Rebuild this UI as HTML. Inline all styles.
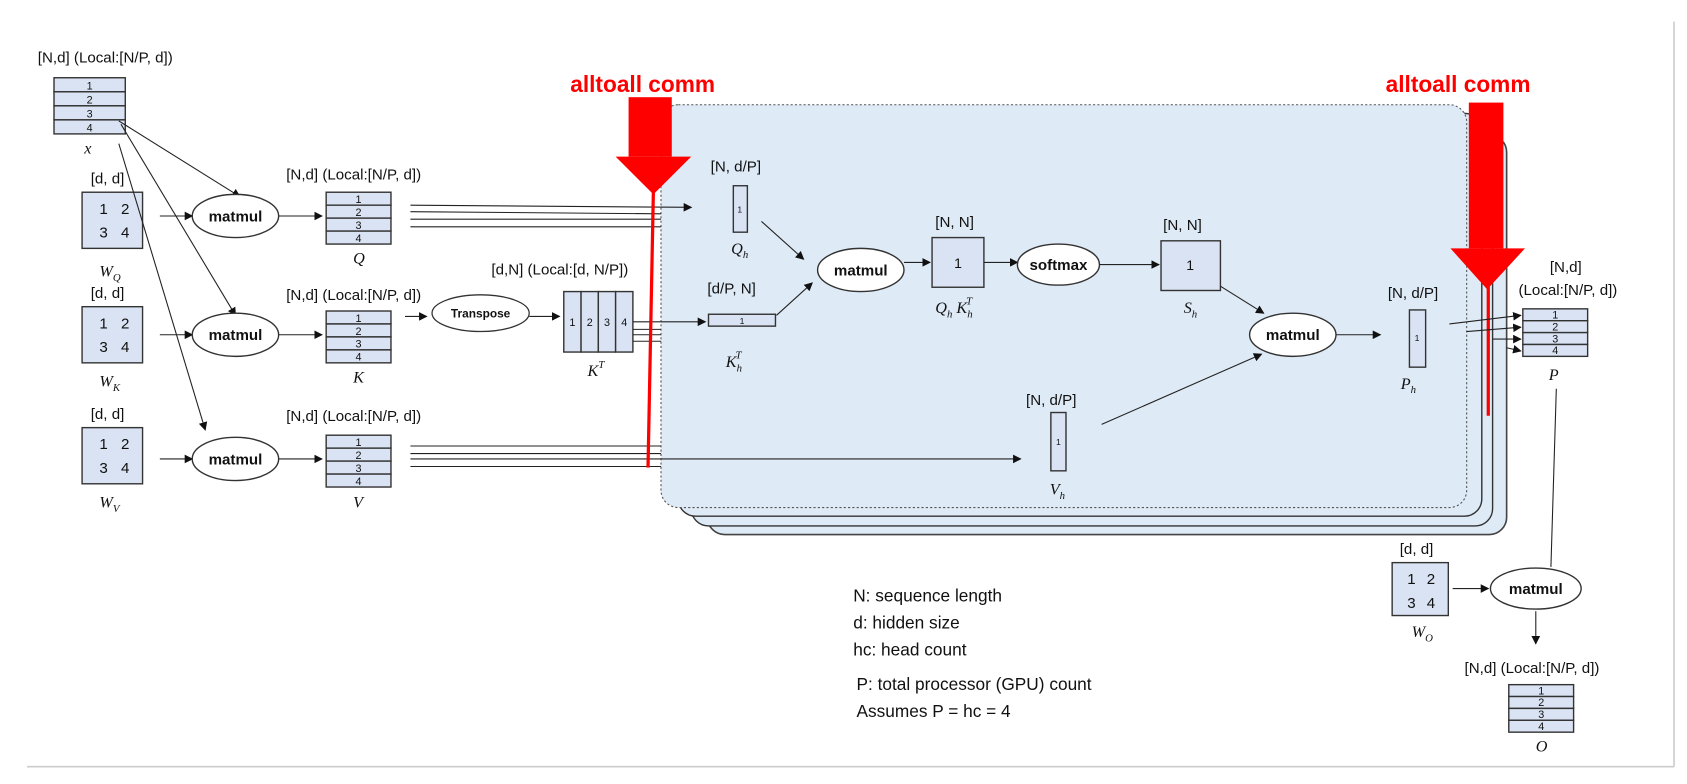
<!DOCTYPE html>
<html><head><meta charset="utf-8"><style>
html,body{margin:0;padding:0;background:#fff;}
svg{display:block;}
text{font-family:"Liberation Sans",sans-serif;fill:#111;}
.m{font-family:"Liberation Serif",serif;font-style:italic;font-size:15px;}
.l{font-size:14px;}
.b{font-weight:bold;font-size:14px;}
.c{fill:#dae3f3;stroke:#333;stroke-width:1.3;}
.ln{stroke:#222;stroke-width:1;fill:none;}
</style></head><body>
<svg width="1687" height="784" viewBox="0 0 1562 726" preserveAspectRatio="none" xmlns="http://www.w3.org/2000/svg">
<defs>
<marker id="a" markerWidth="8" markerHeight="8" refX="7" refY="4" orient="auto" markerUnits="userSpaceOnUse"><path d="M0,0 L8,4 L0,8 z" fill="#111"/></marker>
</defs>
<!-- border -->
<line x1="1550" y1="20" x2="1550" y2="710" stroke="#ccc" stroke-width="1.5"/>
<line x1="25" y1="710" x2="1550" y2="710" stroke="#ccc" stroke-width="1.5"/>

<!-- stacked panels -->
<rect x="655" y="125" width="740" height="370" rx="16" fill="#deeaf6" stroke="#444" stroke-width="1.5"/>
<rect x="640" y="115" width="742" height="372" rx="16" fill="#deeaf6" stroke="#333" stroke-width="1.3"/>
<rect x="628" y="105" width="744" height="373" rx="16" fill="#deeaf6" stroke="#333" stroke-width="1.3"/>
<rect x="612" y="97" width="746" height="373" rx="16" fill="#deeaf6" stroke="#555" stroke-width="1" stroke-dasharray="2,2"/>

<!-- x -->
<text class="l" x="35" y="58">[N,d] (Local:[N/P, d])</text>
<g>
<rect class="c" x="50" y="72" width="66" height="13"/><rect class="c" x="50" y="85" width="66" height="13"/><rect class="c" x="50" y="98" width="66" height="13"/><rect class="c" x="50" y="111" width="66" height="13"/>
<text x="83" y="83" font-size="10" text-anchor="middle">1</text><text x="83" y="96" font-size="10" text-anchor="middle">2</text><text x="83" y="109" font-size="10" text-anchor="middle">3</text><text x="83" y="122" font-size="10" text-anchor="middle">4</text>
</g>
<text class="m" x="78" y="142">x</text>

<!-- W matrices -->
<g font-size="14">
<text class="l" x="84" y="170">[d, d]</text>
<rect class="c" x="76" y="178" width="56" height="52"/>
<text x="92" y="198">1</text><text x="112" y="198">2</text><text x="92" y="220">3</text><text x="112" y="220">4</text>
<text class="m" x="92" y="256">W<tspan font-size="10" dy="4">Q</tspan></text>

<text class="l" x="84" y="276">[d, d]</text>
<rect class="c" x="76" y="284" width="56" height="52"/>
<text x="92" y="304">1</text><text x="112" y="304">2</text><text x="92" y="326">3</text><text x="112" y="326">4</text>
<text class="m" x="92" y="358">W<tspan font-size="10" dy="4">K</tspan></text>

<text class="l" x="84" y="388">[d, d]</text>
<rect class="c" x="76" y="396" width="56" height="52"/>
<text x="92" y="416">1</text><text x="112" y="416">2</text><text x="92" y="438">3</text><text x="112" y="438">4</text>
<text class="m" x="92" y="470">W<tspan font-size="10" dy="4">V</tspan></text>
</g>

<!-- x lines -->
<line class="ln" x1="110" y1="112" x2="222" y2="182" marker-end="url(#a)"/>
<line class="ln" x1="112" y1="115" x2="218" y2="292" marker-end="url(#a)"/>
<line class="ln" x1="110" y1="133" x2="190" y2="398" marker-end="url(#a)"/>

<!-- matmuls left -->
<line class="ln" x1="148" y1="200" x2="178" y2="200" marker-end="url(#a)"/>
<ellipse cx="218" cy="200" rx="40" ry="20" fill="#fff" stroke="#333" stroke-width="1.3"/>
<text class="b" x="218" y="205" text-anchor="middle">matmul</text>
<line class="ln" x1="258" y1="200" x2="298" y2="200" marker-end="url(#a)"/>

<line class="ln" x1="148" y1="310" x2="178" y2="310" marker-end="url(#a)"/>
<ellipse cx="218" cy="310" rx="40" ry="20" fill="#fff" stroke="#333" stroke-width="1.3"/>
<text class="b" x="218" y="315" text-anchor="middle">matmul</text>
<line class="ln" x1="258" y1="310" x2="298" y2="310" marker-end="url(#a)"/>

<line class="ln" x1="148" y1="425" x2="178" y2="425" marker-end="url(#a)"/>
<ellipse cx="218" cy="425" rx="40" ry="20" fill="#fff" stroke="#333" stroke-width="1.3"/>
<text class="b" x="218" y="430" text-anchor="middle">matmul</text>
<line class="ln" x1="258" y1="425" x2="298" y2="425" marker-end="url(#a)"/>

<!-- Q K V -->
<g font-size="10" text-anchor="middle">
<text class="l" x="265" y="166" text-anchor="start">[N,d] (Local:[N/P, d])</text>
<rect class="c" x="302" y="178" width="60" height="12"/><rect class="c" x="302" y="190" width="60" height="12"/><rect class="c" x="302" y="202" width="60" height="12"/><rect class="c" x="302" y="214" width="60" height="12"/>
<text x="332" y="188">1</text><text x="332" y="200">2</text><text x="332" y="212">3</text><text x="332" y="224">4</text>

<text class="l" x="265" y="278" text-anchor="start">[N,d] (Local:[N/P, d])</text>
<rect class="c" x="302" y="288" width="60" height="12"/><rect class="c" x="302" y="300" width="60" height="12"/><rect class="c" x="302" y="312" width="60" height="12"/><rect class="c" x="302" y="324" width="60" height="12"/>
<text x="332" y="298">1</text><text x="332" y="310">2</text><text x="332" y="322">3</text><text x="332" y="334">4</text>

<text class="l" x="265" y="390" text-anchor="start">[N,d] (Local:[N/P, d])</text>
<rect class="c" x="302" y="403" width="60" height="12"/><rect class="c" x="302" y="415" width="60" height="12"/><rect class="c" x="302" y="427" width="60" height="12"/><rect class="c" x="302" y="439" width="60" height="12"/>
<text x="332" y="413">1</text><text x="332" y="425">2</text><text x="332" y="437">3</text><text x="332" y="449">4</text>
</g>
<text class="m" x="327" y="244">Q</text>
<text class="m" x="327" y="354">K</text>
<text class="m" x="327" y="470">V</text>

<!-- Q lines -->
<line class="ln" x1="380" y1="190" x2="640" y2="192" marker-end="url(#a)"/>
<line class="ln" x1="380" y1="196" x2="612" y2="198"/>
<line class="ln" x1="380" y1="203" x2="612" y2="203"/>
<line class="ln" x1="380" y1="210" x2="612" y2="210"/>

<!-- transpose -->
<line class="ln" x1="375" y1="293" x2="395" y2="293" marker-end="url(#a)"/>
<ellipse cx="445" cy="290" rx="45" ry="17" fill="#fff" stroke="#333" stroke-width="1.2"/>
<text x="445" y="294" font-size="11" font-weight="bold" text-anchor="middle">Transpose</text>
<line class="ln" x1="490" y1="293" x2="518" y2="293" marker-end="url(#a)"/>
<text class="l" x="455" y="254">[d,N] (Local:[d, N/P])</text>
<g font-size="10" text-anchor="middle">
<rect class="c" x="522" y="270" width="16" height="56"/><rect class="c" x="538" y="270" width="16" height="56"/><rect class="c" x="554" y="270" width="16" height="56"/><rect class="c" x="570" y="270" width="16" height="56"/>
<text x="530" y="302">1</text><text x="546" y="302">2</text><text x="562" y="302">3</text><text x="578" y="302">4</text>
</g>
<text class="m" x="544" y="348">K<tspan font-size="10" dy="-7">T</tspan></text>
<line class="ln" x1="586" y1="298" x2="653" y2="298" marker-end="url(#a)"/>
<line class="ln" x1="586" y1="305" x2="612" y2="305"/>
<line class="ln" x1="586" y1="310" x2="612" y2="310"/>
<line class="ln" x1="586" y1="316" x2="612" y2="316"/>

<!-- V lines -->
<line class="ln" x1="380" y1="413" x2="612" y2="413"/>
<line class="ln" x1="380" y1="420" x2="612" y2="420"/>
<line class="ln" x1="380" y1="425" x2="945" y2="425" marker-end="url(#a)"/>
<line class="ln" x1="380" y1="432" x2="612" y2="432"/>

<!-- left red arrow -->
<text x="528" y="85" font-size="21" font-weight="bold" fill="#f00" style="fill:#f00">alltoall comm</text>
<rect x="582" y="90" width="40" height="55" fill="#f00"/>
<polygon points="570,145 640,145 605,180" fill="#f00"/>
<line x1="605" y1="175" x2="600" y2="433" stroke="#f00" stroke-width="3"/>

<!-- inner: Qh -->
<text class="l" x="658" y="159">[N, d/P]</text>
<rect class="c" x="679" y="172" width="13" height="43"/>
<text x="685" y="197" font-size="8" text-anchor="middle">1</text>
<text class="m" x="677" y="235">Q<tspan font-size="10" dy="4">h</tspan></text>
<line class="ln" x1="705" y1="205" x2="744" y2="240" marker-end="url(#a)"/>

<text class="l" x="655" y="272">[d/P, N]</text>
<rect class="c" x="656" y="291" width="62" height="11"/>
<text x="687" y="300" font-size="8" text-anchor="middle">1</text>
<text class="m" x="672" y="340">K<tspan font-size="10" dy="4">h</tspan><tspan font-size="10" dx="-6" dy="-12">T</tspan></text>
<line class="ln" x1="719" y1="292" x2="752" y2="262" marker-end="url(#a)"/>

<ellipse cx="797" cy="250" rx="40" ry="20" fill="#fff" stroke="#333" stroke-width="1.3"/>
<text class="b" x="797" y="255" text-anchor="middle">matmul</text>
<line class="ln" x1="837" y1="243" x2="861" y2="243" marker-end="url(#a)"/>

<text class="l" x="866" y="210">[N, N]</text>
<rect class="c" x="863" y="220" width="48" height="46"/>
<text x="887" y="248" font-size="13" text-anchor="middle">1</text>
<text class="m" x="866" y="290">Q<tspan font-size="10" dy="4">h</tspan><tspan dy="-4"> K</tspan><tspan font-size="10" dy="4">h</tspan><tspan font-size="10" dx="-6" dy="-12">T</tspan></text>
<line class="ln" x1="911" y1="243" x2="942" y2="243" marker-end="url(#a)"/>

<ellipse cx="980" cy="245" rx="38" ry="19" fill="#fff" stroke="#333" stroke-width="1.3"/>
<text class="b" x="980" y="250" text-anchor="middle">softmax</text>
<line class="ln" x1="1018" y1="245" x2="1073" y2="245" marker-end="url(#a)"/>

<text class="l" x="1077" y="213">[N, N]</text>
<rect class="c" x="1075" y="223" width="55" height="46"/>
<text x="1102" y="250" font-size="13" text-anchor="middle">1</text>
<text class="m" x="1096" y="290">S<tspan font-size="10" dy="4">h</tspan></text>
<line class="ln" x1="1130" y1="265" x2="1170" y2="290" marker-end="url(#a)"/>

<ellipse cx="1197" cy="310" rx="40" ry="20" fill="#fff" stroke="#333" stroke-width="1.3"/>
<text class="b" x="1197" y="315" text-anchor="middle">matmul</text>
<line class="ln" x1="1237" y1="310" x2="1278" y2="310" marker-end="url(#a)"/>

<text class="l" x="1285" y="276">[N, d/P]</text>
<rect class="c" x="1305" y="287" width="15" height="53"/>
<text x="1312" y="316" font-size="8" text-anchor="middle">1</text>
<text class="m" x="1297" y="360">P<tspan font-size="10" dy="4">h</tspan></text>

<text class="l" x="950" y="375">[N, d/P]</text>
<rect class="c" x="973" y="382" width="14" height="54"/>
<text x="980" y="412" font-size="8" text-anchor="middle">1</text>
<text class="m" x="972" y="458">V<tspan font-size="10" dy="4">h</tspan></text>
<line class="ln" x1="1020" y1="393" x2="1168" y2="328" marker-end="url(#a)"/>

<!-- right red arrow -->
<text x="1283" y="85" font-size="21" font-weight="bold" style="fill:#f00">alltoall comm</text>
<rect x="1360" y="95" width="32" height="135" fill="#f00"/>
<polygon points="1343,230 1412,230 1377,268" fill="#f00"/>
<line x1="1378" y1="262" x2="1378" y2="385" stroke="#f00" stroke-width="3"/>

<!-- lines to P -->
<line class="ln" x1="1342" y1="300" x2="1408" y2="292" marker-end="url(#a)"/>
<line class="ln" x1="1358" y1="307" x2="1408" y2="303" marker-end="url(#a)"/>
<line class="ln" x1="1382" y1="314" x2="1408" y2="314" marker-end="url(#a)"/>
<line class="ln" x1="1395" y1="322" x2="1408" y2="325" marker-end="url(#a)"/>

<!-- P -->
<text class="l" x="1435" y="252">[N,d]</text>
<text class="l" x="1406" y="273">(Local:[N/P, d])</text>
<g font-size="10" text-anchor="middle">
<rect class="c" x="1410" y="286" width="60" height="11"/><rect class="c" x="1410" y="297" width="60" height="11"/><rect class="c" x="1410" y="308" width="60" height="11"/><rect class="c" x="1410" y="319" width="60" height="11"/>
<text x="1440" y="295">1</text><text x="1440" y="306">2</text><text x="1440" y="317">3</text><text x="1440" y="328">4</text>
</g>
<text class="m" x="1434" y="352">P</text>
<line class="ln" x1="1441" y1="360" x2="1436" y2="525"/>

<!-- WO -->
<text class="l" x="1296" y="513">[d, d]</text>
<rect class="c" x="1289" y="521" width="52" height="49"/>
<text x="1303" y="541" font-size="14">1</text><text x="1321" y="541" font-size="14">2</text><text x="1303" y="563" font-size="14">3</text><text x="1321" y="563" font-size="14">4</text>
<text class="m" x="1307" y="590">W<tspan font-size="10" dy="4">O</tspan></text>
<line class="ln" x1="1345" y1="545" x2="1378" y2="545" marker-end="url(#a)"/>
<ellipse cx="1422" cy="545" rx="42" ry="19" fill="#fff" stroke="#333" stroke-width="1.3"/>
<text class="b" x="1422" y="550" text-anchor="middle">matmul</text>
<line class="ln" x1="1422" y1="566" x2="1422" y2="596" marker-end="url(#a)"/>

<!-- O -->
<text class="l" x="1356" y="623">[N,d] (Local:[N/P, d])</text>
<g font-size="10" text-anchor="middle">
<rect class="c" x="1397" y="634" width="60" height="11"/><rect class="c" x="1397" y="645" width="60" height="11"/><rect class="c" x="1397" y="656" width="60" height="11"/><rect class="c" x="1397" y="667" width="60" height="11"/>
<text x="1427" y="643">1</text><text x="1427" y="654">2</text><text x="1427" y="665">3</text><text x="1427" y="676">4</text>
</g>
<text class="m" x="1422" y="696">O</text>

<!-- legend -->
<g font-size="16">
<text x="790" y="557">N: sequence length</text>
<text x="790" y="582">d: hidden size</text>
<text x="790" y="607">hc: head count</text>
<text x="793" y="639">P: total processor (GPU) count</text>
<text x="793" y="664">Assumes P = hc = 4</text>
</g>
</svg>
</body></html>
